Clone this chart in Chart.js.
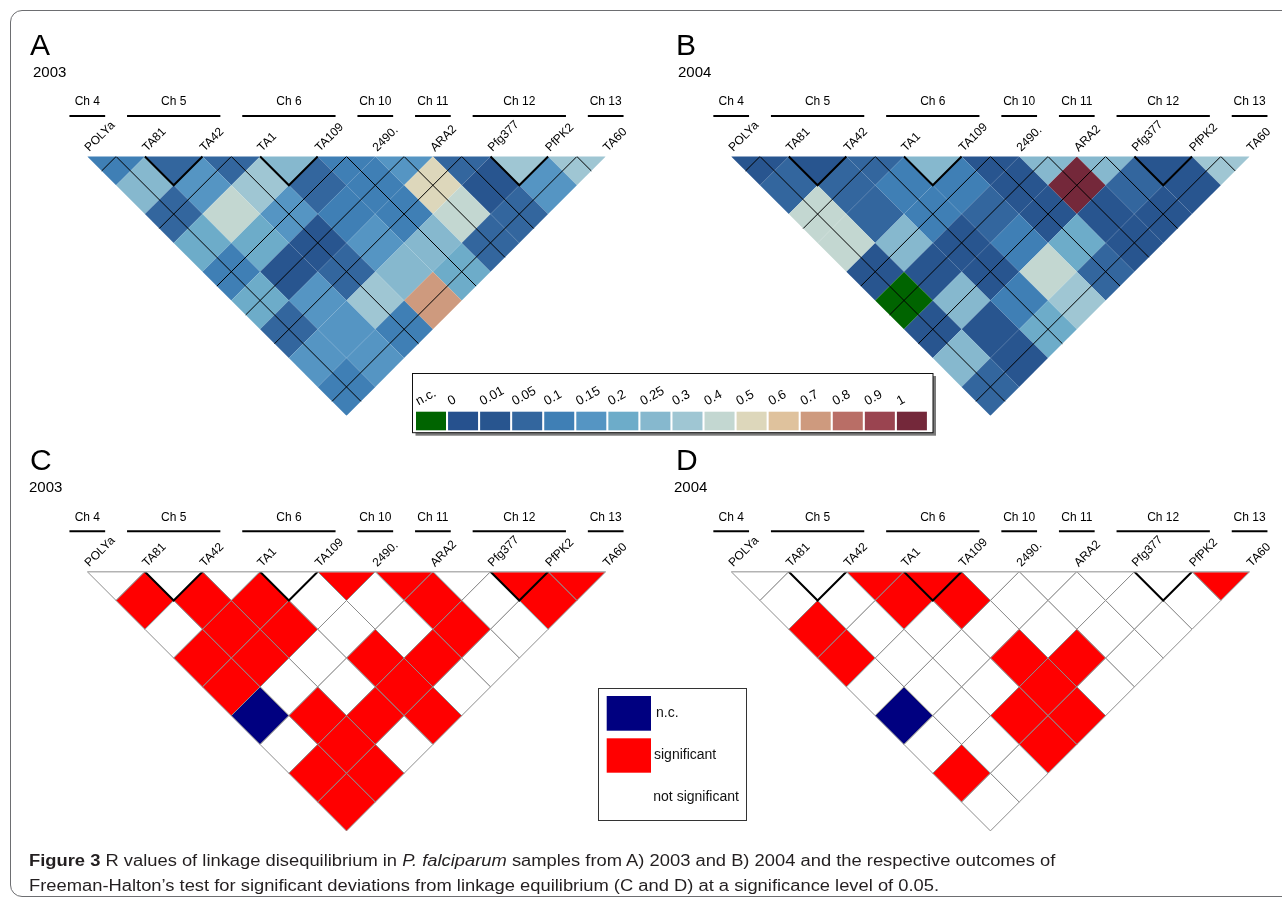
<!DOCTYPE html>
<html><head><meta charset="utf-8">
<script src="https://cdn.jsdelivr.net/npm/chart.js@4.4.1/dist/chart.umd.min.js"></script>
<style>
html,body{margin:0;padding:0;background:#fff;width:1282px;height:902px;overflow:hidden;}
#frame{position:absolute;left:10px;top:10px;width:1300px;height:887px;border:1.3px solid #6d6e71;border-radius:12px;box-sizing:border-box;}
canvas{position:absolute;left:0;top:0;}
#cap{position:absolute;left:28.6px;top:847.5px;font-family:"Liberation Sans Narrow","Liberation Sans",Arial,sans-serif;font-size:16px;line-height:25px;color:#231f20;white-space:nowrap;}
#cap div{transform-origin:0 50%;}
</style></head>
<body>
<div id="frame"></div>
<canvas id="cA" width="1282" height="902"></canvas>
<canvas id="cB" width="1282" height="902"></canvas>
<canvas id="cC" width="1282" height="902"></canvas>
<canvas id="cD" width="1282" height="902"></canvas>
<div id="cap"><div id="l1"><b>Figure 3</b> R values of linkage disequilibrium in <i>P. falciparum</i> samples from A) 2003 and B) 2004 and the respective outcomes of</div><div id="l2">Freeman-Halton’s test for significant deviations from linkage equilibrium (C and D) at a significance level of 0.05.</div></div>
<script>
// ---------------- data ----------------
const markers = ['POLYa','TA81','TA42','TA1','TA109','2490.','ARA2','Pfg377','PfPK2','TA60'];
const chromNames = ['Ch 4','Ch 5','Ch 6','Ch 10','Ch 11','Ch 12','Ch 13'];
const chromFirst = [0,1,3,5,6,7,9];
const chromLast  = [0,2,4,5,6,8,9];
const legendLabels = ['n.c.','0','0.01','0.05','0.1','0.15','0.2','0.25','0.3','0.4','0.5','0.6','0.7','0.8','0.9','1'];
const legendBreaks = [0,0.01,0.05,0.1,0.15,0.2,0.25,0.3,0.4,0.5,0.6,0.7,0.8,0.9,1];
const palette = ['#006400','#26518e','#28558f','#33669e','#3f7fb5','#5595c3','#6dacc9','#86b8ce','#9fc6d3','#c3d7d1','#ddd7bb','#dfc29d','#ce9a7e','#b96e66','#9a4450','#74283a'];
const sigLabels = ['n.c.','significant','not significant'];
const sigColors = ['#000080','#ff0000','#ffffff'];

// R values, row r = distance-1 between marker pairs (row 0 = adjacent markers), null = n.c.
const r2003 = [
  [0.1,0.05,0.05,0.25,0.1,0.15,0.05,0.3,0.3],
  [0.25,0.15,0.3,0.05,0.1,0.5,0.01,0.15],
  [0.05,0.4,0.15,0.1,0.1,0.4,0.05],
  [0.2,0.2,0.01,0.15,0.25,0.05],
  [0.1,0.01,0.05,0.25,0.2],
  [0.2,0.15,0.3,0.7],
  [0.05,0.15,0.1],
  [0.15,0.15],
  [0.1]
];
const r2004 = [
  [0.01,0.01,0.05,0.25,0.01,0.25,0.25,0.01,0.3],
  [0.05,0.05,0.1,0.1,0.01,1,0.05,0.01],
  [0.4,0.05,0.1,0.05,0.01,0.01,0.01],
  [0.4,0.25,0.01,0.1,0.2,0.01],
  [0.01,0.01,0.01,0.4,0.05],
  [null,0.25,0.1,0.3],
  [0.01,0.01,0.2],
  [0.25,0.01],
  [0.05]
];
// Freeman-Halton test: 1 = significant, 0 = not significant, null = n.c.
const sig2003 = [
  [0,0,0,0,1,1,0,1,1],
  [1,1,1,0,0,1,0,1],
  [0,1,1,0,0,1,0],
  [1,1,0,1,1,0],
  [1,0,0,1,0],
  [null,1,1,1],
  [0,1,0],
  [1,1],
  [1]
];
const sig2004 = [
  [0,0,1,1,0,0,0,0,1],
  [0,0,1,1,0,0,0,0],
  [1,0,0,0,0,0,0],
  [1,0,0,1,1,0],
  [0,0,0,1,0],
  [null,0,1,1],
  [0,0,1],
  [1,0],
  [0]
];
const chromBoundaries = [0.5,2.5,4.5,5.5,6.5,8.5];

// ---------------- helpers ----------------
const FONT = '"Liberation Sans", Arial, Helvetica, sans-serif';
const nM = markers.length - 1;
function cells(rows){
  const out=[];
  rows.forEach((row,r)=>row.forEach((v,p)=>out.push({x:p+(r+1)/2, y:r/2, v:v})));
  return out;
}
function rColor(v){
  if(v===null||v===undefined) return palette[0];
  let k=0;
  for(let i=0;i<legendBreaks.length;i++){ if(v>=legendBreaks[i]-1e-9) k=i; }
  return palette[k+1];
}
function sColor(v){ if(v===null||v===undefined) return sigColors[0]; return v? sigColors[1]:sigColors[2]; }
function halfCell(c){ const s=c.chart.scales.x; return Math.abs(s.getPixelForValue(0.5)-s.getPixelForValue(0)); }

function lineDS(pts,color,width,clip){
  return {type:'line',data:pts,borderColor:color,borderWidth:width,pointRadius:0,fill:false,tension:0,order:1,clip:clip===undefined?0:clip,borderJoinStyle:'miter',borderCapStyle:'butt'};
}
function groupVs(){
  const out=[];
  chromFirst.forEach((a,g)=>{ const b=chromLast[g]; if(b>a){ out.push(lineDS([{x:a,y:0},{x:(a+b)/2,y:(b-a)/2},{x:b,y:0}],'#000',2,false)); }});
  return out;
}
function boundaryLines(){
  const out=[];
  chromBoundaries.forEach(m=>{
    out.push(lineDS([{x:m,y:0},{x:m/2,y:m/2}],'#000',1));
    out.push(lineDS([{x:m,y:0},{x:(nM+m)/2,y:(nM-m)/2}],'#000',1));
  });
  return out;
}

const decor = {
  id:'decor',
  afterDraw(chart,args,o){
    const ctx=chart.ctx, xs=chart.scales.x, top=chart.chartArea.top;
    ctx.save();
    ctx.fillStyle='#000'; ctx.strokeStyle='#000';
    // marker labels
    ctx.font='12px '+FONT;
    markers.forEach((m,k)=>{
      const x=xs.getPixelForValue(k);
      ctx.save(); ctx.translate(x+2,top-4.5); ctx.rotate(-Math.PI/4);
      ctx.textAlign='left'; ctx.textBaseline='alphabetic'; ctx.fillText(m,0,0); ctx.restore();
    });
    // chromosome groups
    chromNames.forEach((n,g)=>{
      const x1=xs.getPixelForValue(chromFirst[g]-0.31), x2=xs.getPixelForValue(chromLast[g]+0.31);
      ctx.lineWidth=2; ctx.beginPath(); ctx.moveTo(x1,top-40.5); ctx.lineTo(x2,top-40.5); ctx.stroke();
      ctx.textAlign='center'; ctx.textBaseline='middle'; ctx.fillText(n,(x1+x2)/2,top-54.5);
    });
    // panel letter + year
    ctx.textAlign='left'; ctx.textBaseline='alphabetic';
    ctx.font='30px '+FONT; ctx.fillText(o.letter,o.letterX,top-101.5);
    ctx.font='15px '+FONT; ctx.fillText(o.year,o.yearX,top-79.8);
    // legends
    if(o.legend==='r'){
      ctx.fillStyle='#7a7a7a'; ctx.fillRect(415.5,376,520.5,59.7);
      ctx.fillStyle='#fff'; ctx.fillRect(412.5,373,520.5,59.7);
      ctx.lineWidth=1; ctx.strokeStyle='#111'; ctx.strokeRect(412.5,373.5,520.5,59.2);
      ctx.font='13px '+FONT;
      legendLabels.forEach((l,i)=>{
        const bx=416+i*32.06;
        ctx.fillStyle=palette[i]; ctx.fillRect(bx,411.7,30,18.6);
        ctx.fillStyle='#000';
        ctx.save(); ctx.translate(bx+2.5,405.5); ctx.rotate(-0.5); ctx.fillText(l,0,0); ctx.restore();
      });
    }
    if(o.legend==='s'){
      ctx.lineWidth=1; ctx.strokeStyle='#333'; ctx.strokeRect(598.5,688.5,148,132);
      ctx.fillStyle=sigColors[0]; ctx.fillRect(606.7,696,44.3,34.7);
      ctx.fillStyle=sigColors[1]; ctx.fillRect(606.7,738.3,44.3,34.4);
      ctx.fillStyle='#111'; ctx.font='14px '+FONT; ctx.textBaseline='middle';
      ctx.fillText(sigLabels[0],656,713.5); ctx.fillText(sigLabels[1],654,755.5); ctx.fillText(sigLabels[2],653.3,797.5);
    }
    ctx.restore();
  }
};

function makeChart(id,box,datasets,opts){
  const W=1282,H=902,s=57.6;
  return new Chart(document.getElementById(id),{
    type:'scatter',
    data:{datasets:datasets},
    options:{
      responsive:false, animation:false, devicePixelRatio:1, events:[],
      layout:{padding:{left:box.left,top:box.top,right:W-(box.left+nM*s),bottom:H-(box.top+nM/2*s)}},
      scales:{x:{type:'linear',min:0,max:nM,display:false},y:{type:'linear',min:0,max:nM/2,reverse:true,display:false}},
      plugins:{legend:{display:false},tooltip:{enabled:false},decor:opts}
    },
    plugins:[decor]
  });
}
function rCells(rows){
  return {data:cells(rows),pointStyle:'rectRot',radius:halfCell,borderWidth:0,
    backgroundColor:c=>rColor(c.raw.v),order:2,clip:0};
}
function sCells(rows){
  return {data:cells(rows),pointStyle:'rectRot',radius:halfCell,borderWidth:1,borderColor:'#8c8c8c',
    backgroundColor:c=>sColor(c.raw.v),order:2,clip:0};
}
function topEdge(){ return lineDS([{x:0,y:0},{x:nM,y:0}],'#b3b3b3',1.5,false); }

makeChart('cA',{left:87.3,top:156.5},[...boundaryLines(),...groupVs(),rCells(r2003)],{letter:'A',letterX:30,year:'2003',yearX:33,legend:'r'});
makeChart('cB',{left:731.2,top:156.5},[...boundaryLines(),...groupVs(),rCells(r2004)],{letter:'B',letterX:676,year:'2004',yearX:678});
makeChart('cC',{left:87.3,top:571.7},[topEdge(),...groupVs(),sCells(sig2003)],{letter:'C',letterX:30,year:'2003',yearX:29,legend:'s'});
makeChart('cD',{left:731.2,top:571.7},[topEdge(),...groupVs(),sCells(sig2004)],{letter:'D',letterX:676,year:'2004',yearX:674});

// caption width fitting
(function(){
  const l1=document.getElementById('l1'), l2=document.getElementById('l2');
  const w=l1.getBoundingClientRect().width;
  const k=(1055-28.6)/w;
  l1.style.transform='scaleX('+k+')'; l2.style.transform='scaleX('+k+')';
})();
</script>
</body></html>
